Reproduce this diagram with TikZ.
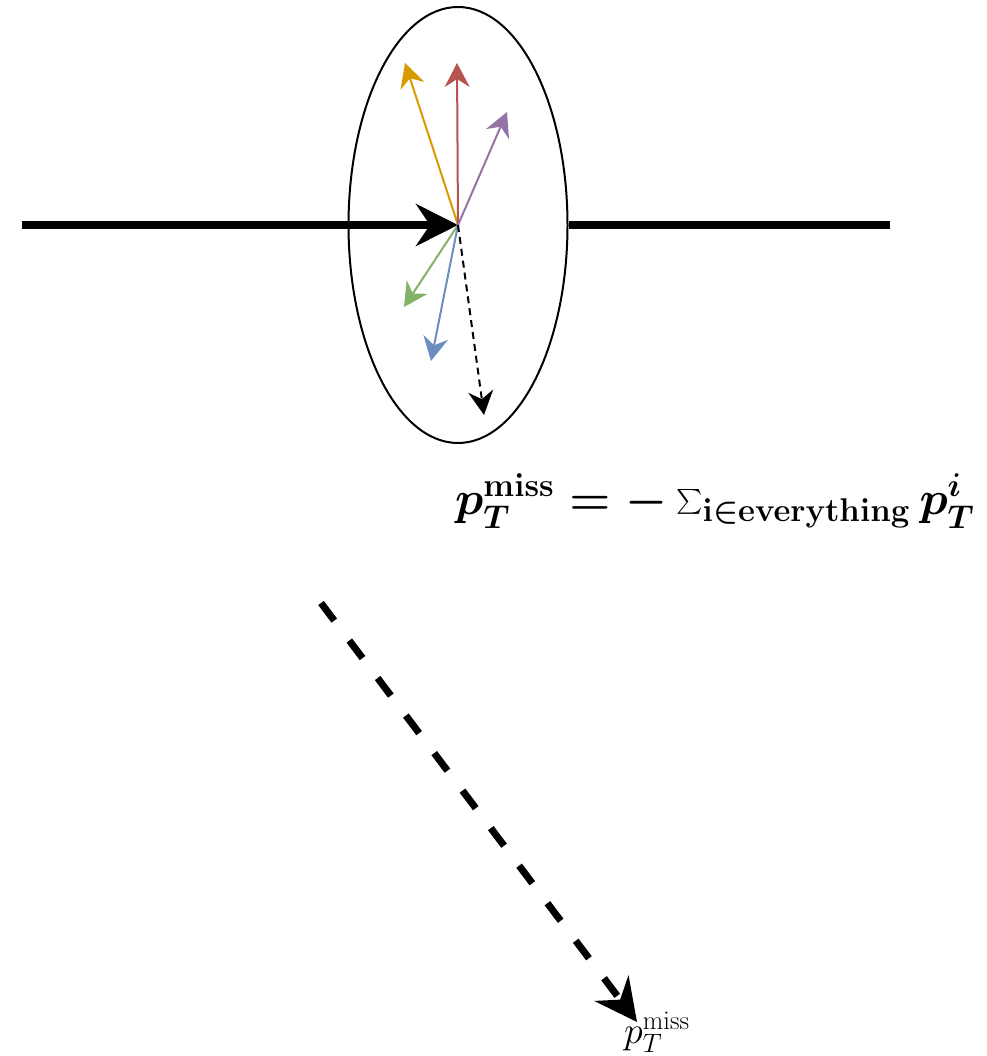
\RequirePackage{fix-cm}
\documentclass[tikz,border=0pt]{standalone}
\usepackage{amsmath}
\usetikzlibrary{arrows.meta,shapes.geometric}
\definecolor{jetOrange}{HTML}{D79B00}
\definecolor{jetRed}{HTML}{B85450}
\definecolor{jetPurple}{HTML}{9673A6}
\definecolor{jetGreen}{HTML}{82B366}
\definecolor{jetBlue}{HTML}{6C8EBF}
\begin{document}
\begin{tikzpicture}[x=1pt,y=-1pt,
  smalltip/.style={-{Stealth[length=24pt,width=25pt,inset=8pt]}},
  track/.style={smalltip,line width=2pt},
  bigtip/.style={-{Stealth[length=42pt,width=42pt,inset=14pt]}}]
\useasboundingbox(0,0)rectangle(986,1056);
% beam and detector
\coordinate(vtx)at(458,225);
\coordinate(beamL)at(22,225);
\coordinate(beamR)at(890,225);
\node[ellipse,draw,line width=2pt,fill=white,inner sep=0,minimum width=219pt,minimum height=436pt](det)at(vtx){};
\draw[line width=8pt](det.east)--(beamR);
\draw[line width=8pt,bigtip](beamL)--(vtx);
% outgoing tracks
\foreach \nm/\px/\py/\col in {jA/405/63/jetOrange,jB/457/63/jetRed,jC/507/112/jetPurple,jD/404/307/jetGreen,jE/431/361/jetBlue}{
  \coordinate(\nm)at(\px,\py);
  \draw[track,\col](vtx)--(\nm);}
\coordinate(met)at(484,415);
\draw[track,dash pattern=on 7pt off 5pt](vtx)--(met);
\node[anchor=base west,inner sep=0,font=\fontsize{47}{56}\selectfont\boldmath](formula)at(455,514){$p_T^{\mathbf{miss}}=-\sum_{\mathbf{i}\in\mathbf{everything}}p_T^{i}$};
% missing momentum
\coordinate(mS)at(321,603);
\coordinate(mE)at(637,1022);
\draw[line width=7pt,dash pattern=on 22pt off 25pt,bigtip](mS)--(mE);
\node[anchor=base west,inner sep=0,font=\fontsize{38}{46}\selectfont](mlab)at(624,1043){$p_T^{\mathrm{miss}}$};
\end{tikzpicture}
\end{document}
